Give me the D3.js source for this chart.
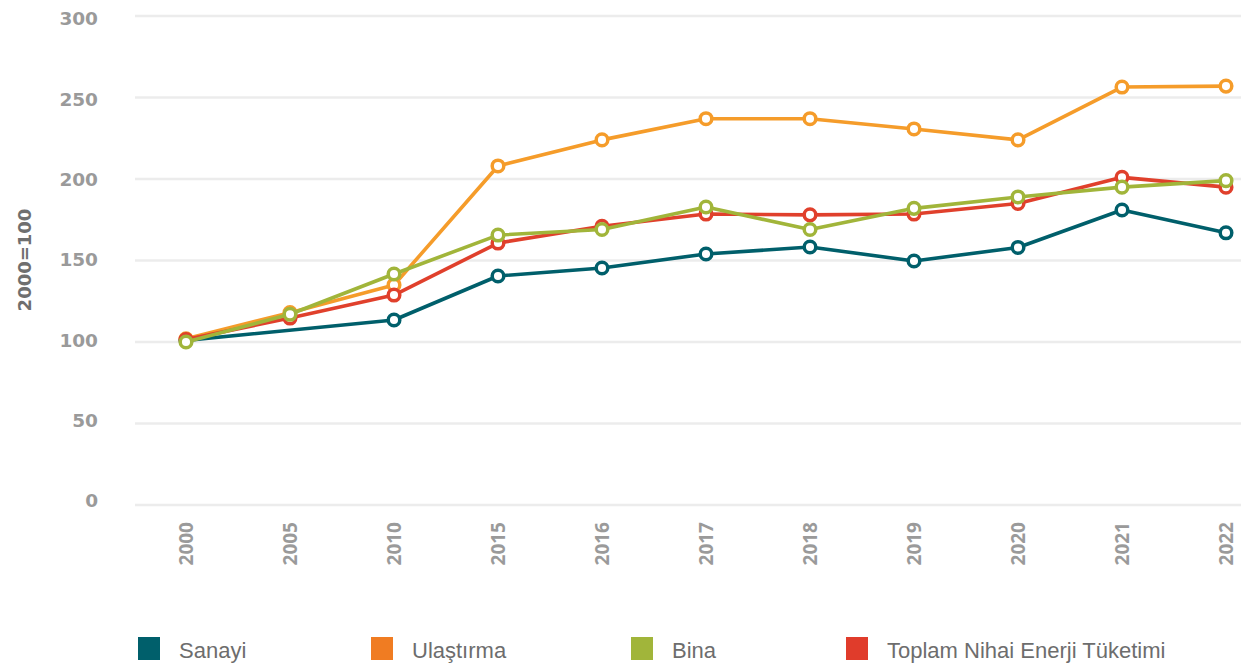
<!DOCTYPE html>
<html>
<head>
<meta charset="utf-8">
<script src="https://cdn.jsdelivr.net/npm/d3@7"></script>
<style>
  body { margin: 0; background: #fff; }
  .y-label { font-family: "DejaVu Sans", sans-serif; font-weight: 700; font-size: 18.5px; fill: #9a9a9a; }
  .x-label { font-family: "Open Sans", sans-serif; font-weight: 700; font-size: 19px; fill: #9a9a9a; }
  .y-title { font-family: "DejaVu Sans", sans-serif; font-weight: 700; font-size: 18px; fill: #6f6f6f; }
  .legend-label { font-family: "Liberation Sans", sans-serif; font-size: 22px; fill: #6d6d6d; }
</style>
</head>
<body>
<div id="chart"></div>
<script>
var years = ["2000", "2005", "2010", "2015", "2016", "2017", "2018", "2019", "2020", "2021", "2022"];
var yTicks = [0, 50, 100, 150, 200, 250, 300];

// Sanayi has no 2005 value (line goes straight from 2000 to 2010)
var sanayi = [101, null, 113.5, 140.5, 145.4, 154, 158.3, 149.7, 158, 181, 167];
var ulastirma = [102, 118, 135, 208, 224, 237, 237, 230.7, 224, 256.4, 257];
var bina = [100, 117, 141.7, 165.6, 169, 182.8, 169, 182, 189, 195, 199];
var toplam = [101.5, 114.7, 128.8, 160.7, 171, 178.5, 178, 178.5, 185, 201, 195];

var seriesNames = ["Sanayi", "Ulaştırma", "Bina", "Toplam Nihai Enerji Tüketimi"];
var lineColors = ["#005f6b", "#f59c2a", "#a1b53a", "#e0402c"];
var legendColors = ["#005f6b", "#f07c22", "#a1b53a", "#e03c2b"];

var svgWidth = 1241;
var svgHeight = 669;

var svg = d3.select("#chart")
  .append("svg")
  .attr("width", svgWidth)
  .attr("height", svgHeight);

var xScale = d3.scalePoint()
  .domain(years)
  .range([186, 1226]);

var yScale = d3.scaleLinear()
  .domain([0, 300])
  .range([505, 16]);

// tick labels sit a little off the gridlines in the original
var yLabelScale = d3.scaleLinear()
  .domain([0, 300])
  .range([500, 18]);

// gridlines
svg.append("g")
  .selectAll("line")
  .data(yTicks)
  .enter()
  .append("line")
  .attr("x1", 135)
  .attr("x2", svgWidth)
  .attr("y1", d => yScale(d))
  .attr("y2", d => yScale(d))
  .attr("stroke", "#ececec")
  .attr("stroke-width", 2.5);

// y axis labels
var leftAxis = d3.axisLeft(yLabelScale).tickValues(yTicks).tickSize(0).tickPadding(0);
var yAxis = svg.append("g")
  .attr("transform", "translate(98, 0)")
  .call(leftAxis);
yAxis.select(".domain").remove();
yAxis.selectAll("text")
  .attr("class", "y-label")
  .attr("dy", "0.36em");

// x axis labels
var bottomAxis = d3.axisBottom(xScale).tickSize(0).tickPadding(0);
var xAxis = svg.append("g")
  .attr("transform", "translate(0, 522)")
  .call(bottomAxis);
xAxis.select(".domain").remove();
xAxis.selectAll("text")
  .attr("class", "x-label")
  .attr("transform", "rotate(-90)")
  .attr("text-anchor", "end")
  .attr("x", 0)
  .attr("y", 0)
  .attr("dy", "0.36em")
  .attr("dx", 0);

// y title
svg.append("text")
  .attr("class", "y-title")
  .attr("transform", "translate(25, 260) rotate(-90)")
  .attr("text-anchor", "middle")
  .attr("dy", "0.36em")
  .text("2000=100");

var allSeries = [sanayi, ulastirma, bina, toplam];
var drawOrder = [1, 0, 3, 2];

var line = d3.line()
  .x(d => xScale(d.year))
  .y(d => yScale(d.value));

drawOrder.forEach(function(i) {
  var pts = years.map((y, j) => ({ year: y, value: allSeries[i][j] }))
    .filter(d => d.value !== null);

  svg.append("path")
    .datum(pts)
    .attr("d", line)
    .attr("fill", "none")
    .attr("stroke", lineColors[i])
    .attr("stroke-width", 3.6)
    .attr("stroke-linejoin", "round");

  svg.append("g")
    .selectAll("circle")
    .data(pts)
    .enter()
    .append("circle")
    .attr("cx", d => xScale(d.year))
    .attr("cy", d => yScale(d.value))
    .attr("r", 5.8)
    .attr("fill", "#fff")
    .attr("stroke", lineColors[i])
    .attr("stroke-width", 3.5);
});

// legend
var legendX = [138, 371, 631, 846];
var legend = svg.append("g");
seriesNames.forEach(function(name, i) {
  legend.append("rect")
    .attr("x", legendX[i])
    .attr("y", 637)
    .attr("width", 22)
    .attr("height", 23)
    .attr("fill", legendColors[i]);
  legend.append("text")
    .attr("class", "legend-label")
    .attr("x", legendX[i] + 41)
    .attr("y", 658)
    .text(name);
});
</script>
</body>
</html>
